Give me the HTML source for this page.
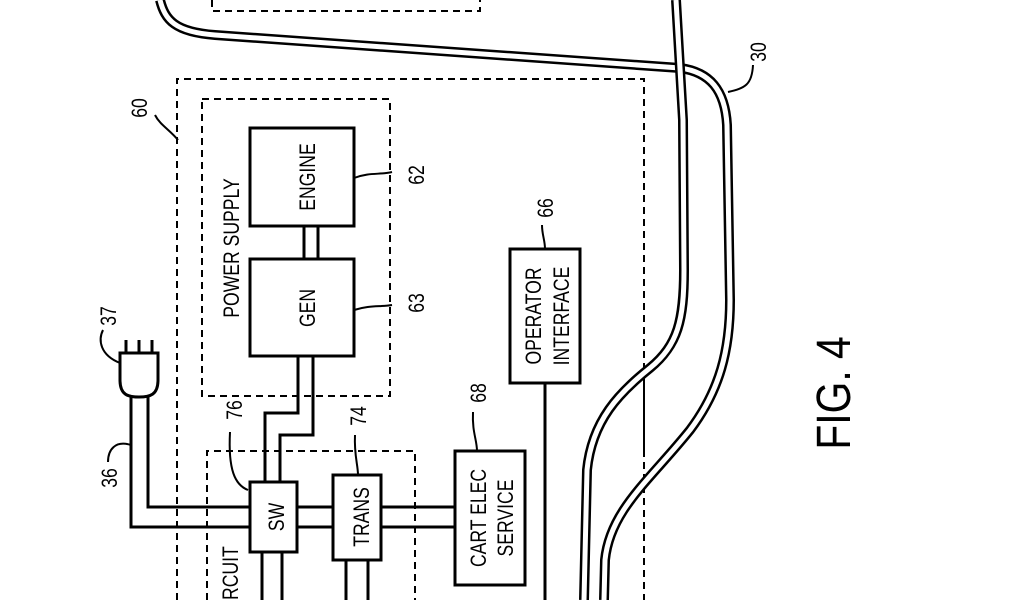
<!DOCTYPE html>
<html><head><meta charset="utf-8"><style>
html,body{margin:0;padding:0;background:#fff;}
svg{display:block;}
text{font-family:"Liberation Sans",sans-serif;fill:#000;}
</style></head><body>
<svg width="1024" height="600" viewBox="0 0 1024 600" xmlns="http://www.w3.org/2000/svg">
<g fill="none" stroke="#000">
<path d="M212 0 V11 H480 V0" stroke-width="2" stroke-dasharray="7,5"/>
<path d="M177 600 V79 H644 V365 M644 450 V600" stroke-width="2" stroke-dasharray="7,5"/>
<path d="M644 365 V450" stroke-width="2"/>
<rect x="202" y="99" width="188" height="297" stroke-width="2" stroke-dasharray="7,5"/>
<path d="M207 600 V451 H415 V600" stroke-width="2" stroke-dasharray="7,5"/>
<path d="M160 0 C165 20 175 32 215 35 L680 68 C710 72 725 90 727 125 L730 300 C730 350 720 390 690 430 C650 480 610 510 605 560 L604 600" stroke-width="10"/>
<path d="M160 0 C165 20 175 32 215 35 L680 68 C710 72 725 90 727 125 L730 300 C730 350 720 390 690 430 C650 480 610 510 605 560 L604 600" stroke="#fff" stroke-width="5"/>
<path d="M676 0 L683 120 L684 270 C684 320 678 345 650 368 C620 392 592 420 587 470 L584 600" stroke-width="10"/>
<path d="M676 0 L683 120 L684 270 C684 320 678 345 650 368 C620 392 592 420 587 470 L584 600" stroke="#fff" stroke-width="5"/>
<rect x="250" y="128" width="104" height="98" stroke-width="3"/>
<rect x="250" y="259" width="104" height="97" stroke-width="3"/>
<path d="M304 226 V259 M318 226 V259" stroke-width="3"/>
<rect x="250" y="482" width="47" height="70" stroke-width="3"/>
<rect x="333" y="475" width="48" height="85" stroke-width="3"/>
<rect x="455" y="451" width="70" height="134" stroke-width="3"/>
<rect x="510" y="249" width="70" height="134" stroke-width="3"/>
<path d="M298 356 V413 H265 V482 M313 356 V435 H280 V482" stroke-width="3"/>
<path d="M148 395 V507 H250 M131 395 V527 H250" stroke-width="3"/>
<path d="M297 507 H333 M297 527 H333 M381 507 H455 M381 527 H455" stroke-width="3"/>
<path d="M262 552 V600 M282 552 V600 M346 560 V600 M368 560 V600 M545 383 V600" stroke-width="3"/>
<path d="M120 353 H158 V380 C158 395 150 397 139 397 C128 397 120 395 120 380 Z" stroke-width="3"/>
<path d="M126 353 V340 M139 353 V340 M152 353 V340" stroke-width="3"/>
<path d="M120 363 C100 355 98 340 103 330" stroke-width="2"/>
<path d="M131 445 C115 440 108 450 108 462" stroke-width="2"/>
<path d="M178 140 C170 130 160 125 155 115" stroke-width="2"/>
<path d="M354 178 C370 172 380 175 392 172" stroke-width="2"/>
<path d="M354 310 C370 305 380 307 392 305" stroke-width="2"/>
<path d="M545 249 C545 240 542 235 542 225" stroke-width="2"/>
<path d="M477 451 C477 440 472 432 473 412" stroke-width="2"/>
<path d="M358 475 C358 465 354 455 355 435" stroke-width="2"/>
<path d="M248 490 C235 485 228 470 230 432" stroke-width="2"/>
<path d="M728 92 C745 88 752 85 753 65" stroke-width="2"/>
</g>
<g font-size="22">
<text transform="translate(315 177) rotate(-90) scale(0.8,1)" text-anchor="middle">ENGINE</text>
<text transform="translate(315 308) rotate(-90) scale(0.8,1)" text-anchor="middle">GEN</text>
<text transform="translate(239 248) rotate(-90) scale(0.8,1)" text-anchor="middle">POWER  SUPPLY</text>
<text transform="translate(284 517) rotate(-90) scale(0.8,1)" text-anchor="middle">SW</text>
<text transform="translate(369 517) rotate(-90) scale(0.8,1)" text-anchor="middle">TRANS</text>
<text transform="translate(486 518) rotate(-90) scale(0.8,1)" text-anchor="middle">CART  ELEC</text>
<text transform="translate(513 518) rotate(-90) scale(0.8,1)" text-anchor="middle">SERVICE</text>
<text transform="translate(541 316) rotate(-90) scale(0.8,1)" text-anchor="middle">OPERATOR</text>
<text transform="translate(569 316) rotate(-90) scale(0.8,1)" text-anchor="middle">INTERFACE</text>
<text transform="translate(238 600) rotate(-90) scale(0.8,1)" text-anchor="start">RCUIT</text>
<text transform="translate(147 108) rotate(-90) scale(0.8,1)" text-anchor="middle">60</text>
<text transform="translate(424 175) rotate(-90) scale(0.8,1)" text-anchor="middle">62</text>
<text transform="translate(424 303) rotate(-90) scale(0.8,1)" text-anchor="middle">63</text>
<text transform="translate(553 208) rotate(-90) scale(0.8,1)" text-anchor="middle">66</text>
<text transform="translate(486 393) rotate(-90) scale(0.8,1)" text-anchor="middle">68</text>
<text transform="translate(366 416) rotate(-90) scale(0.8,1)" text-anchor="middle">74</text>
<text transform="translate(242 410) rotate(-90) scale(0.8,1)" text-anchor="middle">76</text>
<text transform="translate(116 316) rotate(-90) scale(0.8,1)" text-anchor="middle">37</text>
<text transform="translate(117 478) rotate(-90) scale(0.8,1)" text-anchor="middle">36</text>
<text transform="translate(766 52) rotate(-90) scale(0.8,1)" text-anchor="middle">30</text>
<text transform="translate(850 393) rotate(-90) scale(0.85,1)" text-anchor="middle" font-size="48">FIG. 4</text>
</g>
</svg>
</body></html>
